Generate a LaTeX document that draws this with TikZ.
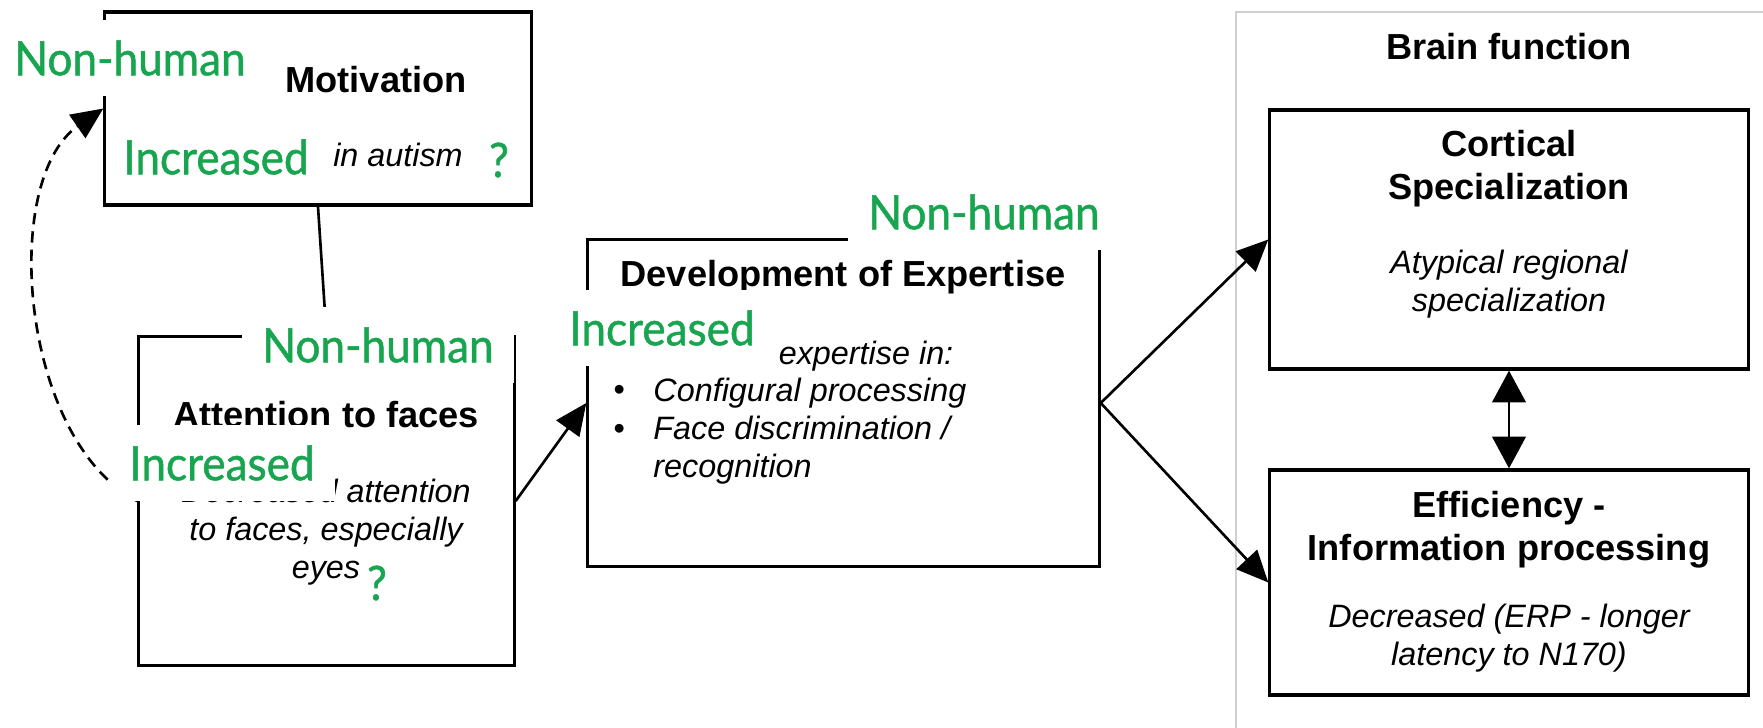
\documentclass[tikz,border=0pt]{standalone}
\usepackage{fontspec}
\setmainfont{Liberation Sans}
\newfontfamily\gill[FakeStretch=0.93, FakeBold=1]{Lato}
\usetikzlibrary{arrows.meta}

\definecolor{nongreen}{RGB}{24,165,80}
\definecolor{framegray}{RGB}{208,208,208}

\tikzset{
  box/.style={draw, line width=0.9pt, inner sep=0pt},
  head/.style={font=\bfseries\fontsize{10.3}{12.3}\selectfont, align=center},
  body/.style={font=\itshape\fontsize{9.2}{10.8}\selectfont, align=center},
  greentag/.style={fill=white, text=nongreen, inner sep=0.2cm, font=\gill\fontsize{13.5}{15}\selectfont},
  link/.style={line width=0.75pt, -{Triangle[length=9pt,width=8pt]}},
}

\begin{document}
\begin{tikzpicture}[x=0.01cm, y=-0.01cm]
\useasboundingbox (0,0) rectangle (1763,727);
\fill[white] (0,0) rectangle (1763,727);

% frame of the brain panel
\draw[framegray, line width=0.8pt] (1236,740) -- (1236,12) -- (1775,12);

% boxes
\node[box, minimum width=4.26cm, minimum height=1.93cm] (mot) at (318,108.5) {};
\node[box, minimum width=3.75cm, minimum height=3.28cm] (att) at (326.5,501) {};
\node[box, minimum width=5.11cm, minimum height=3.26cm] (dev) at (843.5,403) {};
\node[box, minimum width=4.78cm, minimum height=2.59cm] (cort) at (1509,239.5) {};
\node[box, minimum width=4.78cm, minimum height=2.25cm] (eff) at (1509,582.5) {};

% connectors
\draw[line width=0.75pt] (mot.south) -- (att.north);
\draw[link, dash pattern=on 3.2pt off 2pt] (att.west) .. controls (20,440) and (0,180) .. (mot.west);
\draw[link] (att.east) -- (dev.west);
\draw[link] (dev.east) -- (cort.west);
\draw[link] (dev.east) -- (eff.west);
\draw[line width=0.75pt, {Triangle[length=9pt,width=9.5pt]}-{Triangle[length=9pt,width=9.5pt]}] (cort.south) -- (eff.north);

% texts in the boxes
\node[head] (motT) at (376,80) {Motivation};
\node[body] (motB) at (398,155) {in autism};
\node[head] (attT) at (326,415) {Attention to faces};
\node[body] (attB) at (326,532) {Decreased attention\\to faces, especially\\eyes};
\node[head] (devT) at (843,277) {Development of Expertise};
\node[body, anchor=west] (devB) at (601,356) {Decreased expertise in:};
\node[body] (dot1) at (619,393) {\textbullet};
\node[body, anchor=west] (item1) at (641,393) {Configural processing};
\node[body] (dot2) at (619,432) {\textbullet};
\node[body, anchor=west, align=left] (item2) at (641,450) {Face discrimination /\\recognition};
\node[head] (brainT) at (1509,47) {Brain function};
\node[head] (cortT) at (1509,169) {Cortical\\Specialization};
\node[body] (cortB) at (1509,284) {Atypical regional\\specialization};
\node[head] (effT) at (1509,530) {Efficiency -\\Information processing};
\node[body] (effB) at (1509,638) {Decreased (ERP - longer\\latency to N170)};

% green labels on top
\node[greentag] (nh1) at (130,58) {Non-human};
\node[greentag, inner sep=0.1cm] (inc1) at (216,157) {Increased};
\node[greentag, inner sep=1pt] (q1) at (499,160) {?};
\node[greentag] (nh2) at (378,345) {Non-human};
\node[greentag] (inc2) at (222,463) {Increased};
\node[greentag, inner sep=1pt] (q2) at (377,583) {?};
\node[greentag] (nh3) at (984,212) {Non-human};
\node[greentag] (inc3) at (662,328) {Increased};
\end{tikzpicture}
\end{document}
